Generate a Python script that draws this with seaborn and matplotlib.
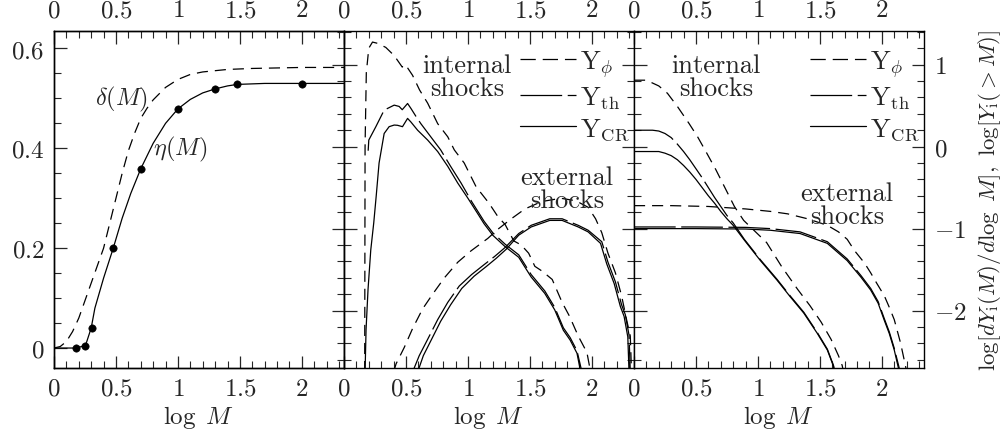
import numpy as np
import pandas as pd
import matplotlib
matplotlib.use("Agg")
import matplotlib.pyplot as plt
from matplotlib.lines import Line2D
from matplotlib.ticker import MultipleLocator, FuncFormatter
import seaborn as sns

# ---- left panel: efficiencies ----
eta_pts_x = [0.176, 0.254, 0.303, 0.478, 0.70, 1.0, 1.303, 1.478, 2.0]
eta_pts_y = [0.0, 0.005, 0.04, 0.2, 0.359, 0.479, 0.519, 0.528, 0.528]

eta_x = [0, 0.176, 0.254, 0.30, 0.33, 0.40, 0.478, 0.55, 0.62, 0.70, 0.80, 0.90,
         1.0, 1.1, 1.2, 1.3, 1.4, 1.478, 1.7, 2.0, 2.34]
eta_y = [0, 0, 0.005, 0.04, 0.08, 0.14, 0.2, 0.26, 0.31, 0.359, 0.41, 0.45,
         0.479, 0.498, 0.511, 0.519, 0.525, 0.528, 0.53, 0.53, 0.53]

delta_x = [0, 0.05, 0.10, 0.15, 0.20, 0.25, 0.30, 0.35, 0.40, 0.45, 0.50, 0.55,
           0.60, 0.65, 0.70, 0.75, 0.80, 0.90, 1.0, 1.1, 1.2, 1.4, 1.6, 2.0, 2.34]
delta_y = [0, 0.003, 0.013, 0.033, 0.06, 0.095, 0.13, 0.165, 0.2, 0.25, 0.30, 0.35,
           0.395, 0.43, 0.46, 0.48, 0.497, 0.522, 0.538, 0.548, 0.553, 0.558, 0.56,
           0.562, 0.562]

# ---- middle panel: differential distributions ----
mid_int_phi_x = [0.167, 0.17, 0.18, 0.2, 0.23, 0.27, 0.337, 0.405, 0.47, 0.49, 0.5,
                 0.553, 0.61, 0.675, 0.756, 0.837, 0.89, 0.97, 1.066, 1.17, 1.24,
                 1.30, 1.37, 1.43, 1.49, 1.54, 1.60, 1.68, 1.76, 1.82, 1.89, 1.96, 1.99]
mid_int_phi_y = [-2.75, 0.0, 0.9, 1.2, 1.275, 1.26, 1.21, 1.11, 0.97, 1.0, 0.99,
                 0.87, 0.69, 0.53, 0.28, 0.12, -0.04, -0.2, -0.49, -0.69, -0.85,
                 -0.95, -1.15, -1.2, -1.30, -1.46, -1.52, -1.62, -1.9, -2.07, -2.31, -2.51, -2.75]

mid_int_th_x = [0.195, 0.2, 0.256, 0.324, 0.405, 0.445, 0.47, 0.513, 0.54, 0.58, 0.62,
                0.70, 0.78, 0.86, 0.945, 1.03, 1.08, 1.13, 1.20, 1.30, 1.41, 1.51,
                1.62, 1.70, 1.77, 1.825, 1.88, 1.92]
mid_int_th_y = [-0.05, 0.08, 0.24, 0.445, 0.506, 0.49, 0.45, 0.526, 0.466, 0.37, 0.28,
                0.12, -0.04, -0.24, -0.445, -0.67, -0.79, -0.91, -1.05, -1.19, -1.32, -1.56,
                -1.76, -1.96, -2.21, -2.33, -2.49, -2.75]

mid_int_cr_x = [0.17, 0.178, 0.194, 0.216, 0.24, 0.26, 0.283, 0.324, 0.364, 0.405, 0.432,
                0.472, 0.513, 0.54, 0.594, 0.675, 0.756, 0.837, 0.918, 1.0, 1.08, 1.13,
                1.20, 1.30, 1.41, 1.51, 1.62, 1.70, 1.77, 1.825, 1.88, 1.91]
mid_int_cr_y = [-2.75, -2.23, -1.74, -1.26, -0.93, -0.6, -0.2, 0.16, 0.243, 0.263, 0.26,
                0.243, 0.344, 0.30, 0.2, 0.08, -0.06, -0.24, -0.445, -0.63, -0.82, -0.94,
                -1.08, -1.22, -1.35, -1.59, -1.79, -1.99, -2.24, -2.36, -2.52, -2.75]

mid_ext_phi_x = [0.40, 0.42, 0.486, 0.553, 0.634, 0.715, 0.81, 0.918, 1.026, 1.16, 1.24,
                 1.35, 1.46, 1.595, 1.75, 1.87, 1.97, 2.03, 2.08, 2.13, 2.19, 2.24, 2.28,
                 2.31, 2.32]
mid_ext_phi_y = [-2.75, -2.65, -2.45, -2.22, -1.98, -1.80, -1.60, -1.41, -1.27, -1.12, -1.01,
                 -0.88, -0.76, -0.67, -0.63, -0.66, -0.74, -0.88, -1.05, -1.30, -1.54, -1.82,
                 -2.11, -2.31, -2.75]

mid_ext_th_x = [0.553, 0.607, 0.675, 0.756, 0.837, 0.93, 1.03, 1.13, 1.215, 1.30, 1.41,
                1.51, 1.66, 1.76, 1.89, 1.97, 2.08, 2.13, 2.19, 2.24, 2.27, 2.30, 2.31]
mid_ext_th_y = [-2.75, -2.55, -2.35, -2.11, -1.9, -1.7, -1.56, -1.44, -1.34, -1.23, -1.06,
                -0.96, -0.88, -0.88, -0.96, -1.02, -1.16, -1.41, -1.65, -1.93, -2.05, -2.30,
                -2.75]

mid_ext_cr_x = [0.594, 0.64, 0.70, 0.78, 0.86, 0.95, 1.05, 1.15, 1.23, 1.31, 1.41, 1.51,
                1.66, 1.76, 1.89, 1.97, 2.07, 2.12, 2.18, 2.23, 2.26, 2.29, 2.30]
mid_ext_cr_y = [-2.75, -2.55, -2.37, -2.13, -1.93, -1.73, -1.58, -1.46, -1.36, -1.25, -1.08,
                -0.98, -0.90, -0.90, -0.98, -1.04, -1.18, -1.43, -1.67, -1.95, -2.07, -2.32,
                -2.75]

# ---- right panel: cumulative distributions ----
cum_int_phi_x = [0, 0.1, 0.2, 0.27, 0.35, 0.445, 0.513, 0.58, 0.66, 0.73, 0.81, 0.885,
                 1.07, 1.19, 1.32, 1.42, 1.51, 1.59, 1.65, 1.68, 1.69]
cum_int_phi_y = [0.81, 0.81, 0.74, 0.65, 0.49, 0.28, 0.12, -0.06, -0.28, -0.49, -0.73, -0.9,
                 -1.17, -1.46, -1.74, -1.94, -2.14, -2.35, -2.55, -2.67, -2.75]

cum_int_th_x = [0, 0.15, 0.2, 0.25, 0.3, 0.35, 0.4, 0.45, 0.5, 0.55, 0.6, 0.65, 0.7, 0.75,
                0.8, 0.89, 1.02, 1.155, 1.26, 1.37, 1.48, 1.56, 1.61, 1.62]
cum_int_th_y = [0.20, 0.20, 0.19, 0.16, 0.11, 0.03, -0.06, -0.16, -0.27, -0.38, -0.5, -0.62,
                -0.73, -0.84, -0.93, -1.13, -1.38, -1.62, -1.82, -2.02, -2.27, -2.47, -2.67,
                -2.75]

cum_int_cr_x = [0, 0.2, 0.25, 0.3, 0.35, 0.4, 0.45, 0.5, 0.55, 0.6, 0.65, 0.7, 0.75, 0.8,
                0.89, 1.02, 1.155, 1.26, 1.37, 1.48, 1.56, 1.61, 1.615]
cum_int_cr_y = [-0.06, -0.06, -0.08, -0.11, -0.16, -0.23, -0.31, -0.40, -0.50, -0.6, -0.69,
                -0.79, -0.88, -0.96, -1.14, -1.39, -1.63, -1.83, -2.03, -2.28, -2.48, -2.68,
                -2.75]

cum_ext_phi_x = [0, 0.3, 0.6, 0.9, 1.1, 1.24, 1.4, 1.56, 1.65, 1.72, 1.78, 1.86, 1.91,
                 1.96, 2.02, 2.06, 2.10, 2.15, 2.19, 2.20]
cum_ext_phi_y = [-0.72, -0.72, -0.73, -0.76, -0.79, -0.82, -0.88, -0.96, -1.04, -1.13, -1.27,
                 -1.42, -1.54, -1.67, -1.82, -1.96, -2.11, -2.39, -2.67, -2.75]

cum_ext_th_x = [0, 0.5, 0.9, 1.1, 1.34, 1.56, 1.72, 1.83, 1.91, 1.97, 2.02, 2.06, 2.10,
                2.14, 2.145]
cum_ext_th_y = [-0.98, -0.98, -0.985, -1.0, -1.04, -1.16, -1.37, -1.57, -1.73, -1.89, -2.10,
                -2.26, -2.46, -2.70, -2.75]

cum_ext_cr_x = [0, 0.5, 0.9, 1.1, 1.34, 1.56, 1.72, 1.83, 1.91, 1.97, 2.02, 2.06, 2.10,
                2.135, 2.14]
cum_ext_cr_y = [-1.0, -1.0, -1.005, -1.02, -1.06, -1.18, -1.39, -1.59, -1.75, -1.91, -2.12,
                -2.28, -2.48, -2.71, -2.75]

x_lim = (0, 2.34)
lin_lim = (-0.04, 0.635)
log_lim = (-2.70, 1.41)

sns.set_style("ticks")
plt.rcParams.update({
    "font.family": "serif",
    "font.serif": ["cmr10", "DejaVu Serif"],
    "mathtext.fontset": "cm",
    "axes.formatter.use_mathtext": True,
    "axes.linewidth": 1.0,
    "axes.edgecolor": "black",
    "lines.scale_dashes": False,
    "font.size": 18,
})

DASH = (0, (8, 5))
LONG = (0, (30, 4))
LW = 0.9
fmt = FuncFormatter(lambda v, p: f"${v:g}$")

fig = plt.figure(figsize=(10.03, 4.35), dpi=100)
b = 1 - 369 / 435
h = (369 - 32) / 435
ax1 = fig.add_axes([54 / 1003, b, 290 / 1003, h])
ax2 = fig.add_axes([344 / 1003, b, 290 / 1003, h])
ax3 = fig.add_axes([634 / 1003, b, 290 / 1003, h])


def line(ax, x, y, ls="-"):
    sns.lineplot(x=x, y=y, ax=ax, color="black", lw=LW, linestyle=ls,
                 sort=False, estimator=None)


# left panel
line(ax1, delta_x, delta_y, DASH)
line(ax1, eta_x, eta_y)
sns.scatterplot(x=eta_pts_x, y=eta_pts_y, ax=ax1, color="black", s=28,
                edgecolor="black", zorder=3)
ax1.text(0.545, 0.50, r"$\delta(M)$", ha="center", va="center", fontsize=17.5)
ax1.text(1.02, 0.40, r"$\eta(M)$", ha="center", va="center", fontsize=17.5)

# middle panel
line(ax2, mid_int_phi_x, mid_int_phi_y, DASH)
line(ax2, mid_int_th_x, mid_int_th_y, LONG)
line(ax2, mid_int_cr_x, mid_int_cr_y)
line(ax2, mid_ext_phi_x, mid_ext_phi_y, DASH)
line(ax2, mid_ext_th_x, mid_ext_th_y, LONG)
line(ax2, mid_ext_cr_x, mid_ext_cr_y)

# right panel
line(ax3, cum_int_phi_x, cum_int_phi_y, DASH)
line(ax3, cum_int_th_x, cum_int_th_y, LONG)
line(ax3, cum_int_cr_x, cum_int_cr_y)
line(ax3, cum_ext_phi_x, cum_ext_phi_y, DASH)
line(ax3, cum_ext_th_x, cum_ext_th_y, LONG)
line(ax3, cum_ext_cr_x, cum_ext_cr_y)

handles = [Line2D([], [], color="black", lw=LW, linestyle=(0, (11, 5))),
           Line2D([], [], color="black", lw=LW, linestyle=LONG),
           Line2D([], [], color="black", lw=LW)]
labels = [r"$\mathrm{Y}_{\phi}$", r"$\mathrm{Y}_{\rm th}$", r"$\mathrm{Y}_{\rm CR}$"]

for ax, ix, ex, ey in [(ax2, 0.99, 1.80, -0.51), (ax3, 0.66, 1.72, -0.71)]:
    ax.text(ix, 0.85, "internal\nshocks", ha="center", va="center",
            fontsize=19, linespacing=0.95)
    ax.text(ex, ey, "external\nshocks", ha="center", va="center",
            fontsize=19, linespacing=0.95)
    ax.legend(handles, labels, loc="upper right", bbox_to_anchor=(0.985, 0.95),
              frameon=False, handlelength=2.1, handletextpad=0.15,
              labelspacing=0.2, fontsize=19, borderaxespad=0, borderpad=0)

for ax in (ax1, ax2, ax3):
    ax.set_xlim(*x_lim)
    ax.xaxis.set_major_locator(MultipleLocator(0.5))
    ax.xaxis.set_minor_locator(MultipleLocator(0.1))
    ax.xaxis.set_major_formatter(fmt)
    ax.tick_params(axis="x", which="both", direction="in", top=True, bottom=True,
                   labeltop=True, labelbottom=True, pad=7, labelsize=18)
    ax.tick_params(which="major", length=9, width=0.9)
    ax.tick_params(which="minor", length=5, width=0.8)
    ax.set_xlabel(r"$\log\ M$", fontsize=18, labelpad=2)
    ax.set_ylabel("")
    for s in ax.spines.values():
        s.set_visible(True)

ax1.set_ylim(*lin_lim)
ax1.yaxis.set_major_locator(MultipleLocator(0.2))
ax1.yaxis.set_minor_locator(MultipleLocator(0.05))
ax1.yaxis.set_major_formatter(fmt)
ax1.tick_params(axis="y", which="both", direction="in", left=True, right=False,
                pad=7, labelsize=18)

tw = ax1.twinx()
tw.set_ylim(*log_lim)
tw.yaxis.set_major_locator(MultipleLocator(1))
tw.yaxis.set_minor_locator(MultipleLocator(0.2))
tw.tick_params(axis="y", which="both", direction="in", right=True, labelright=False)
tw.tick_params(which="major", length=9, width=0.9)
tw.tick_params(which="minor", length=5, width=0.8)

for ax in (ax2, ax3):
    ax.set_ylim(*log_lim)
    ax.yaxis.set_major_locator(MultipleLocator(1))
    ax.yaxis.set_minor_locator(MultipleLocator(0.2))
    ax.yaxis.set_major_formatter(fmt)
    ax.tick_params(axis="y", which="both", direction="in", left=True, right=True,
                   labelleft=False, labelright=False, pad=7, labelsize=18)

ax3.tick_params(axis="y", labelright=True)
ax3.yaxis.set_label_position("right")
ax3.set_ylabel(r"$\log[dY_{\rm i}(M)/d\log\ M],\ \log[Y_{\rm i}(>M)]$",
               fontsize=16.5, labelpad=7)

fig.savefig("out.png", dpi=100)
